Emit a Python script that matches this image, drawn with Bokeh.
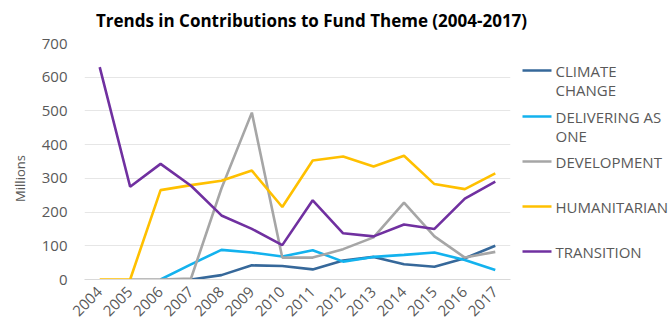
from bokeh.plotting import figure
from bokeh.layouts import row, column
from bokeh.models import FixedTicker, Range1d, ColumnDataSource
from bokeh.core.properties import value
from bokeh.embed import file_html
from bokeh.resources import INLINE
import math

years = [2004, 2005, 2006, 2007, 2008, 2009, 2010, 2011, 2012, 2013, 2014, 2015, 2016, 2017]

climate_years = [2007, 2008, 2009, 2010, 2011, 2012, 2013, 2014, 2015, 2016, 2017]
climate = [0, 13, 42, 40, 30, 56, 67, 45, 38, 63, 100]

delivering_years = [2006, 2007, 2008, 2009, 2010, 2011, 2012, 2013, 2014, 2015, 2016, 2017]
delivering = [0, 45, 88, 80, 68, 87, 53, 67, 73, 80, 58, 28]

development_years = [2005, 2006, 2007, 2008, 2009, 2010, 2011, 2012, 2013, 2014, 2015, 2016, 2017]
development = [0, 0, 3, 270, 495, 65, 65, 90, 125, 228, 128, 65, 82]

humanitarian = [0, 0, 265, 280, 293, 323, 215, 353, 365, 335, 367, 283, 268, 315]
transition = [630, 275, 343, 278, 190, 150, 102, 235, 137, 128, 163, 150, 240, 290]

y_ticks = [0, 100, 200, 300, 400, 500, 600, 700]

legend_first = ["CLIMATE", "DELIVERING AS", "DEVELOPMENT", "HUMANITARIAN", "TRANSITION"]
legend_second = ["CHANGE", "ONE", "", "", ""]
colors = ["#36689A", "#13B2EE", "#A6A6A6", "#FFC000", "#7030A0"]

title_text = "Trends in Contributions to Fund Theme (2004-2017)"
y_title = "Millions"

FONT = "Open Sans"
GRAY = "#595959"

# ---- layout in pixels ----
TOTAL_W, TITLE_H, BODY_H = 670, 32, 294
STRIP_W, MAIN_W = 30, 485
LEG_W = TOTAL_W - STRIP_W - MAIN_W
B_TOP, B_BOTTOM = 11, 47  # borders shared by every figure in the row


def blank(fig):
    fig.axis.visible = False
    fig.grid.visible = False
    fig.outline_line_color = None
    fig.min_border_left = 0
    fig.min_border_right = 0
    return fig


def strip(width):
    f = figure(width=width, height=BODY_H, output_backend="svg", toolbar_location=None,
               x_range=Range1d(0, width), y_range=Range1d(BODY_H - B_BOTTOM, B_TOP),
               min_border_top=B_TOP, min_border_bottom=B_BOTTOM)
    return blank(f)


# title strip
tfig = figure(width=TOTAL_W, height=TITLE_H, output_backend="svg", toolbar_location=None,
              x_range=Range1d(0, TOTAL_W), y_range=Range1d(TITLE_H, 0),
              min_border_top=0, min_border_bottom=0)
blank(tfig)
tfig.text(x=[311], y=[20], text=[title_text], text_font=value(FONT), text_font_size="17px",
          text_font_style="bold", text_color="#000000", text_align="center",
          text_baseline="middle")

# y-axis title strip
sfig = strip(STRIP_W)
sfig.text(x=[19], y=[146], text=[y_title], angle=math.pi / 2, text_font=value(FONT),
          text_font_size="13px", text_color=GRAY, text_align="center", text_baseline="middle")

# main chart
p = figure(width=MAIN_W, height=BODY_H, output_backend="svg", toolbar_location=None,
           x_range=Range1d(2003.5, 2017.5), y_range=Range1d(0, 700),
           min_border_left=54, min_border_right=5, min_border_top=B_TOP,
           min_border_bottom=B_BOTTOM)

series_x = [climate_years, delivering_years, development_years, years, years]
series_y = [climate, delivering, development, humanitarian, transition]
for i in range(5):
    p.line(series_x[i], series_y[i], line_color=colors[i], line_width=2.6)

p.xaxis.ticker = FixedTicker(ticks=years)
p.xaxis.major_label_orientation = math.pi / 4
p.yaxis.ticker = FixedTicker(ticks=y_ticks)
for ax in (p.xaxis, p.yaxis):
    ax.major_tick_line_color = None
    ax.minor_tick_line_color = None
    ax.major_label_text_font = FONT
    ax.major_label_text_font_size = "15px"
    ax.major_label_text_color = GRAY
p.xaxis.axis_line_color = "#D9D9D9"
p.xaxis.major_label_standoff = 4
p.yaxis.axis_line_color = None
p.yaxis.major_label_standoff = 11
p.xgrid.grid_line_color = None
p.ygrid.grid_line_color = "#E6E6E6"
p.outline_line_color = None

# legend strip
lfig = strip(LEG_W)
row_y = [38, 84, 129, 174, 219]
line_x0, line_x1, text_x, line_gap = 7, 36, 40, 19
lsrc = ColumnDataSource(dict(x0=[line_x0] * 5, x1=[line_x1] * 5, y=row_y, color=colors,
                             t1=legend_first, t2=legend_second,
                             y2=[y + line_gap for y in row_y], tx=[text_x] * 5))
lfig.segment(x0="x0", y0="y", x1="x1", y1="y", line_color="color", line_width=2.6, source=lsrc)
lfig.text(x="tx", y="y", text="t1", text_font=value(FONT), text_font_size="15px",
          text_color=GRAY, text_baseline="middle", text_align="left", source=lsrc)
lfig.text(x="tx", y="y2", text="t2", text_font=value(FONT), text_font_size="15px",
          text_color=GRAY, text_baseline="middle", text_align="left", source=lsrc)

layout = column(tfig, row(sfig, p, lfig, spacing=0), spacing=0)
open("out.html", "w").write(file_html(layout, INLINE))
